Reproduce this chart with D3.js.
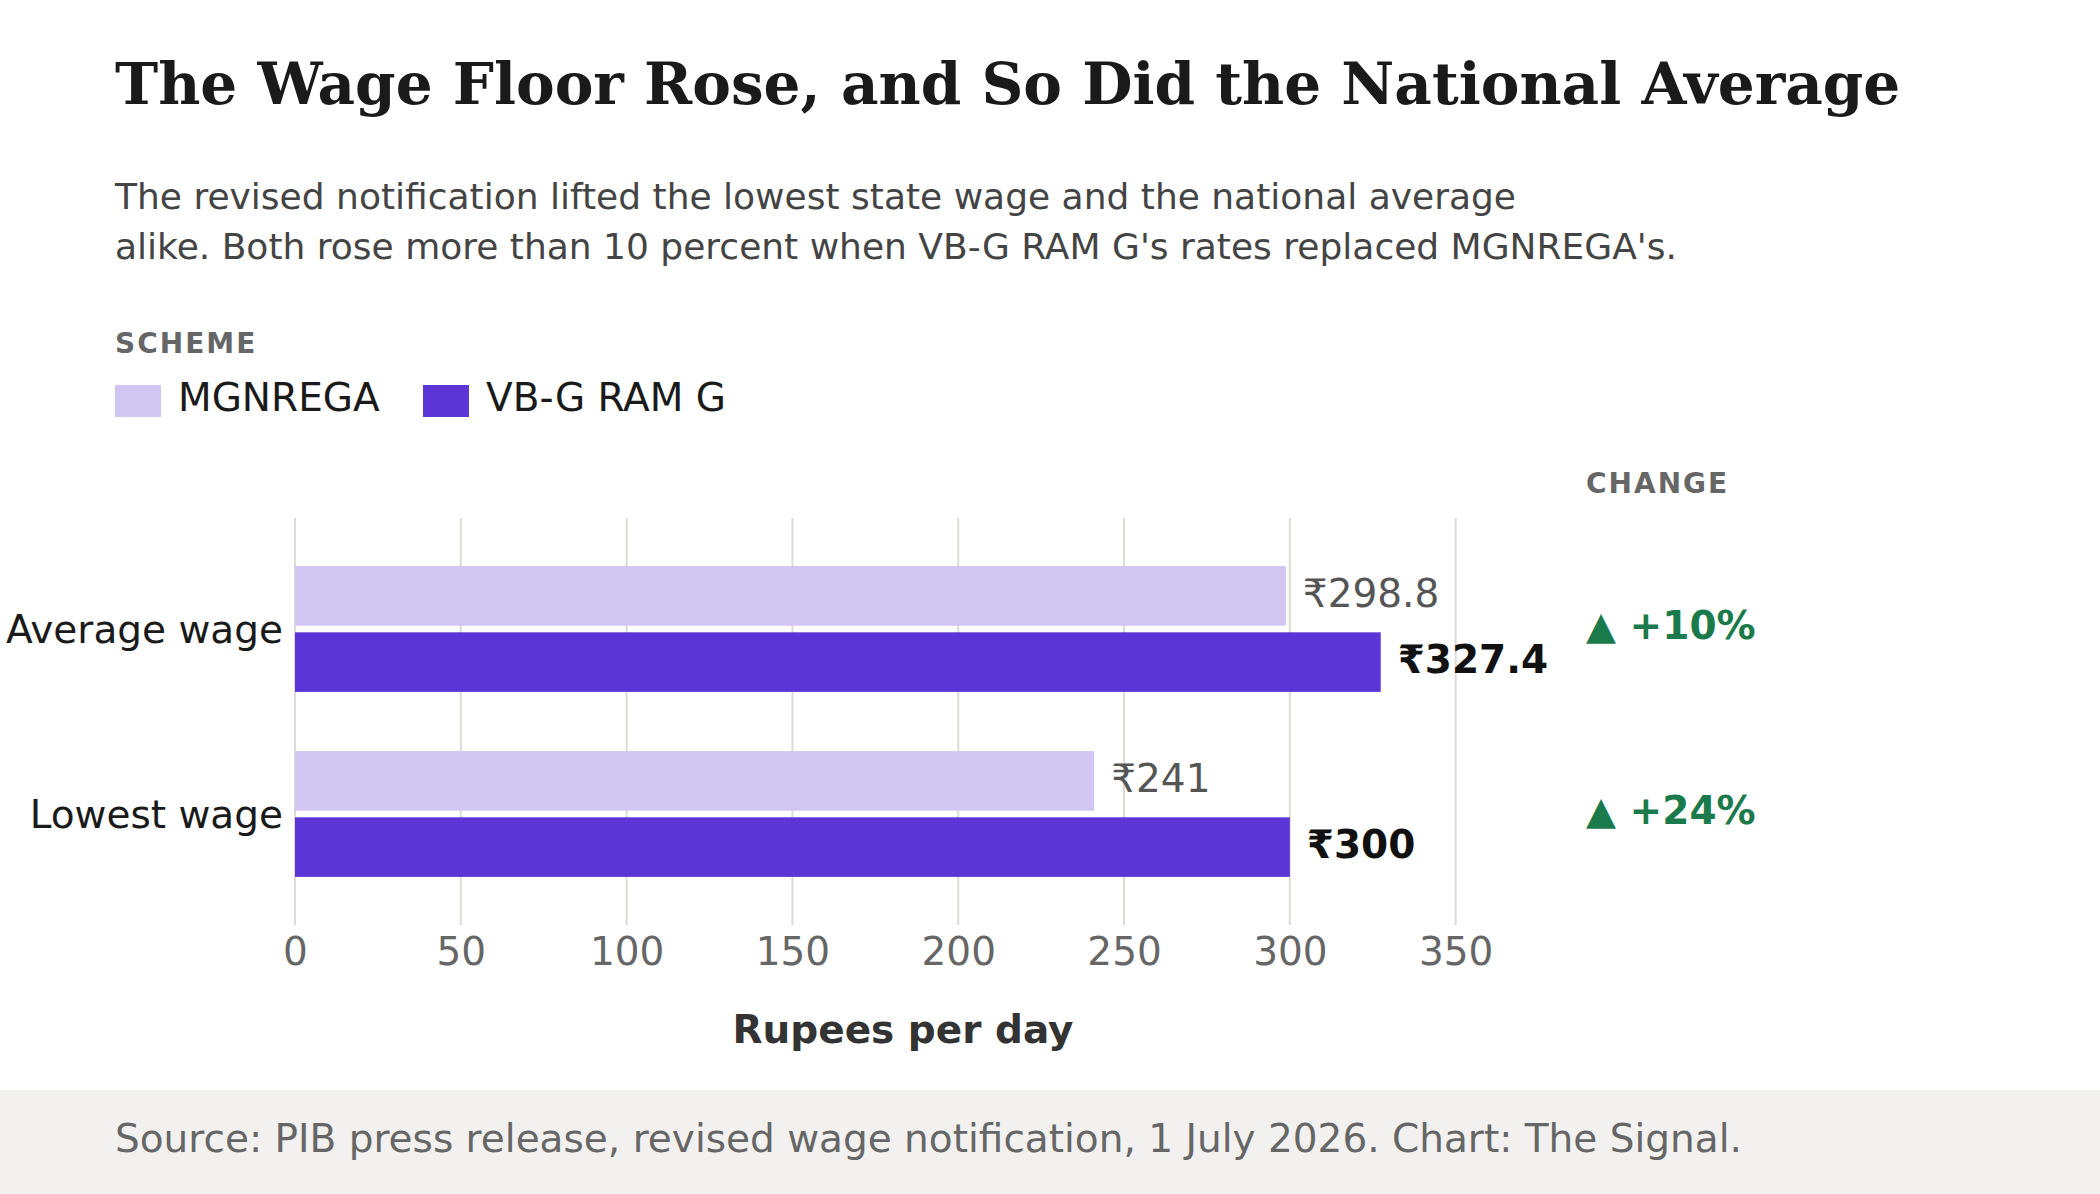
<!DOCTYPE html>
<html>
<head>
<meta charset="utf-8">
<script src="https://cdn.jsdelivr.net/npm/d3@7"></script>
<style>
  html, body { margin: 0; padding: 0; background: #fff; }
  svg { display: block; font-family: "DejaVu Sans", sans-serif; }
</style>
</head>
<body>
<svg id="chart" width="2100" height="1194"></svg>
<script>
// data
var categories = ["Average wage", "Lowest wage"];
var schemes = ["MGNREGA", "VB-G RAM G"];
var mgnregaValues = [298.8, 241];
var vbgValues = [327.4, 300];
var changeLabels = ["+10%", "+24%"];
var xTicks = [0, 50, 100, 150, 200, 250, 300, 350];

var ColorOld = "#d1c5f2";
var ColorNew = "#5b35d5";
var ColorGreen = "#1a7a4c";

var chartWidth = 2100, chartHeight = 1194;
var plotLeft = 295, plotRight = 1511, plotTop = 518, plotBottom = 925;

var rows = categories.map(function(c, i) {
  return { category: c, values: [mgnregaValues[i], vbgValues[i]], change: changeLabels[i] };
});

var svg = d3.select("#chart");

// title block
svg.append("text")
  .attr("x", 115).attr("y", 104)
  .style("font-family", "'DejaVu Serif', serif")
  .style("font-weight", "bold")
  .style("font-size", "58px")
  .style("fill", "#1a1a1a")
  .text("The Wage Floor Rose, and So Did the National Average");

var sub = svg.append("text")
  .attr("x", 115).attr("y", 209)
  .style("font-size", "36px")
  .style("fill", "#444");
sub.append("tspan").attr("x", 115).text("The revised notification lifted the lowest state wage and the national average");
sub.append("tspan").attr("x", 115).attr("dy", 50).text("alike. Both rose more than 10 percent when VB-G RAM G's rates replaced MGNREGA's.");

// legend
svg.append("text")
  .attr("x", 115).attr("y", 353)
  .style("font-size", "28px").style("font-weight", "bold")
  .style("letter-spacing", "2px")
  .style("fill", "#666")
  .text("SCHEME");

var legendX = [115, 423];
var legend = svg.selectAll(".legend")
  .data(schemes)
  .enter().append("g")
  .attr("class", "legend")
  .attr("transform", function(d, i) { return "translate(" + legendX[i] + ",385)"; });

legend.append("rect")
  .attr("width", 46).attr("height", 32)
  .style("fill", function(d, i) { return i === 0 ? ColorOld : ColorNew; });

legend.append("text")
  .attr("x", 63).attr("y", 26)
  .style("font-size", "39px")
  .style("fill", "#1a1a1a")
  .text(function(d) { return d; });

// scales
var x = d3.scaleLinear()
  .domain([0, d3.max(vbgValues) * 1.12])
  .range([plotLeft, plotRight]);

var y = d3.scaleBand()
  .domain(categories)
  .range([plotTop, plotBottom])
  .paddingInner(0.32)
  .paddingOuter(0.26);

var ySub = d3.scaleBand()
  .domain(schemes)
  .range([0, y.bandwidth()])
  .paddingInner(0.1);

// grid
svg.append("g")
  .selectAll("line")
  .data(xTicks)
  .enter().append("line")
  .attr("x1", function(d) { return x(d); })
  .attr("x2", function(d) { return x(d); })
  .attr("y1", plotTop).attr("y2", plotBottom)
  .style("stroke", "#dcdbd7")
  .style("stroke-width", 2);

// x axis labels
var xAxis = svg.append("g")
  .attr("transform", "translate(0," + plotBottom + ")")
  .call(d3.axisBottom(x).tickValues(xTicks).tickSize(0));
xAxis.select(".domain").remove();
xAxis.selectAll("text")
  .attr("dy", null).attr("y", 40)
  .style("font-family", "'DejaVu Sans', sans-serif")
  .style("font-size", "39px")
  .style("fill", "#666");

svg.append("text")
  .attr("x", (plotLeft + plotRight) / 2).attr("y", 1043)
  .attr("text-anchor", "middle")
  .style("font-size", "39px").style("font-weight", "bold")
  .style("fill", "#333")
  .text("Rupees per day");

// y labels
svg.append("g")
  .selectAll("text")
  .data(categories)
  .enter().append("text")
  .attr("x", plotLeft - 12)
  .attr("y", function(d) { return y(d) + y.bandwidth() / 2 + 14; })
  .attr("text-anchor", "end")
  .style("font-size", "39px")
  .style("fill", "#1a1a1a")
  .text(function(d) { return d; });

// bars
var group = svg.selectAll(".group")
  .data(rows)
  .enter().append("g")
  .attr("class", "group")
  .attr("transform", function(d) { return "translate(0," + y(d.category) + ")"; });

var bar = group.selectAll(".bar")
  .data(function(d) { return d.values.map(function(v, i) { return { scheme: schemes[i], value: v, i: i }; }); })
  .enter().append("g")
  .attr("class", "bar");

bar.append("rect")
  .attr("x", x(0))
  .attr("y", function(d) { return ySub(d.scheme); })
  .attr("width", function(d) { return x(d.value) - x(0); })
  .attr("height", ySub.bandwidth())
  .style("fill", function(d) { return d.i === 0 ? ColorOld : ColorNew; });

bar.append("text")
  .attr("x", function(d) { return x(d.value) + 17; })
  .attr("y", function(d) { return ySub(d.scheme) + ySub.bandwidth() / 2 + 11; })
  .style("font-size", "39px")
  .style("font-weight", function(d) { return d.i === 0 ? "normal" : "bold"; })
  .style("fill", function(d) { return d.i === 0 ? "#555" : "#111"; })
  .text(function(d) { return "₹" + d.value; });

// change column
svg.append("text")
  .attr("x", 1586).attr("y", 493)
  .style("font-size", "28px").style("font-weight", "bold")
  .style("letter-spacing", "2px")
  .style("fill", "#666")
  .text("CHANGE");

group.append("text")
  .attr("x", 1586)
  .attr("y", y.bandwidth() / 2 + 10)
  .style("font-size", "39px").style("font-weight", "bold")
  .style("fill", ColorGreen)
  .text(function(d) { return "▲ " + d.change; });

// footer
svg.append("rect")
  .attr("x", 0).attr("y", 1090)
  .attr("width", chartWidth).attr("height", chartHeight - 1090)
  .style("fill", "#f2f1ef");

svg.append("text")
  .attr("x", 115).attr("y", 1152)
  .style("font-size", "39px")
  .style("fill", "#666")
  .text("Source: PIB press release, revised wage notification, 1 July 2026. Chart: The Signal.");
</script>
</body>
</html>
